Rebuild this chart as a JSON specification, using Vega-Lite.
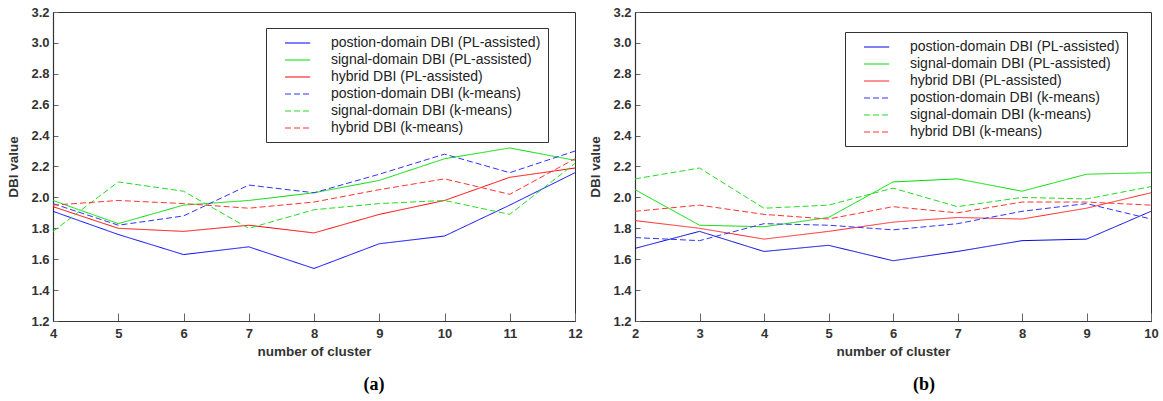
{
  "$schema": "https://vega.github.io/schema/vega-lite/v6.json",
  "background": "white",
  "padding": {"left": 6, "top": 5, "right": 2, "bottom": 5},
  "spacing": 5,
  "datasets": {
    "a": [
      {"x": 4, "y": 1.91, "s": "postion-domain DBI (PL-assisted)"},
      {"x": 5, "y": 1.76, "s": "postion-domain DBI (PL-assisted)"},
      {"x": 6, "y": 1.63, "s": "postion-domain DBI (PL-assisted)"},
      {"x": 7, "y": 1.68, "s": "postion-domain DBI (PL-assisted)"},
      {"x": 8, "y": 1.54, "s": "postion-domain DBI (PL-assisted)"},
      {"x": 9, "y": 1.70, "s": "postion-domain DBI (PL-assisted)"},
      {"x": 10, "y": 1.75, "s": "postion-domain DBI (PL-assisted)"},
      {"x": 11, "y": 1.95, "s": "postion-domain DBI (PL-assisted)"},
      {"x": 12, "y": 2.16, "s": "postion-domain DBI (PL-assisted)"},
      {"x": 4, "y": 1.98, "s": "signal-domain DBI (PL-assisted)"},
      {"x": 5, "y": 1.83, "s": "signal-domain DBI (PL-assisted)"},
      {"x": 6, "y": 1.95, "s": "signal-domain DBI (PL-assisted)"},
      {"x": 7, "y": 1.98, "s": "signal-domain DBI (PL-assisted)"},
      {"x": 8, "y": 2.03, "s": "signal-domain DBI (PL-assisted)"},
      {"x": 9, "y": 2.11, "s": "signal-domain DBI (PL-assisted)"},
      {"x": 10, "y": 2.25, "s": "signal-domain DBI (PL-assisted)"},
      {"x": 11, "y": 2.32, "s": "signal-domain DBI (PL-assisted)"},
      {"x": 12, "y": 2.24, "s": "signal-domain DBI (PL-assisted)"},
      {"x": 4, "y": 1.94, "s": "hybrid DBI (PL-assisted)"},
      {"x": 5, "y": 1.80, "s": "hybrid DBI (PL-assisted)"},
      {"x": 6, "y": 1.78, "s": "hybrid DBI (PL-assisted)"},
      {"x": 7, "y": 1.82, "s": "hybrid DBI (PL-assisted)"},
      {"x": 8, "y": 1.77, "s": "hybrid DBI (PL-assisted)"},
      {"x": 9, "y": 1.89, "s": "hybrid DBI (PL-assisted)"},
      {"x": 10, "y": 1.98, "s": "hybrid DBI (PL-assisted)"},
      {"x": 11, "y": 2.13, "s": "hybrid DBI (PL-assisted)"},
      {"x": 12, "y": 2.19, "s": "hybrid DBI (PL-assisted)"},
      {"x": 4, "y": 1.96, "s": "postion-domain DBI (k-means)"},
      {"x": 5, "y": 1.82, "s": "postion-domain DBI (k-means)"},
      {"x": 6, "y": 1.88, "s": "postion-domain DBI (k-means)"},
      {"x": 7, "y": 2.08, "s": "postion-domain DBI (k-means)"},
      {"x": 8, "y": 2.03, "s": "postion-domain DBI (k-means)"},
      {"x": 9, "y": 2.15, "s": "postion-domain DBI (k-means)"},
      {"x": 10, "y": 2.28, "s": "postion-domain DBI (k-means)"},
      {"x": 11, "y": 2.16, "s": "postion-domain DBI (k-means)"},
      {"x": 12, "y": 2.30, "s": "postion-domain DBI (k-means)"},
      {"x": 4, "y": 1.78, "s": "signal-domain DBI (k-means)"},
      {"x": 5, "y": 2.10, "s": "signal-domain DBI (k-means)"},
      {"x": 6, "y": 2.04, "s": "signal-domain DBI (k-means)"},
      {"x": 7, "y": 1.80, "s": "signal-domain DBI (k-means)"},
      {"x": 8, "y": 1.92, "s": "signal-domain DBI (k-means)"},
      {"x": 9, "y": 1.96, "s": "signal-domain DBI (k-means)"},
      {"x": 10, "y": 1.98, "s": "signal-domain DBI (k-means)"},
      {"x": 11, "y": 1.89, "s": "signal-domain DBI (k-means)"},
      {"x": 12, "y": 2.22, "s": "signal-domain DBI (k-means)"},
      {"x": 4, "y": 1.95, "s": "hybrid DBI (k-means)"},
      {"x": 5, "y": 1.98, "s": "hybrid DBI (k-means)"},
      {"x": 6, "y": 1.96, "s": "hybrid DBI (k-means)"},
      {"x": 7, "y": 1.93, "s": "hybrid DBI (k-means)"},
      {"x": 8, "y": 1.97, "s": "hybrid DBI (k-means)"},
      {"x": 9, "y": 2.05, "s": "hybrid DBI (k-means)"},
      {"x": 10, "y": 2.12, "s": "hybrid DBI (k-means)"},
      {"x": 11, "y": 2.02, "s": "hybrid DBI (k-means)"},
      {"x": 12, "y": 2.25, "s": "hybrid DBI (k-means)"}
    ],
    "b": [
      {"x": 2, "y": 1.67, "s": "postion-domain DBI (PL-assisted)"},
      {"x": 3, "y": 1.78, "s": "postion-domain DBI (PL-assisted)"},
      {"x": 4, "y": 1.65, "s": "postion-domain DBI (PL-assisted)"},
      {"x": 5, "y": 1.69, "s": "postion-domain DBI (PL-assisted)"},
      {"x": 6, "y": 1.59, "s": "postion-domain DBI (PL-assisted)"},
      {"x": 7, "y": 1.65, "s": "postion-domain DBI (PL-assisted)"},
      {"x": 8, "y": 1.72, "s": "postion-domain DBI (PL-assisted)"},
      {"x": 9, "y": 1.73, "s": "postion-domain DBI (PL-assisted)"},
      {"x": 10, "y": 1.91, "s": "postion-domain DBI (PL-assisted)"},
      {"x": 2, "y": 2.05, "s": "signal-domain DBI (PL-assisted)"},
      {"x": 3, "y": 1.82, "s": "signal-domain DBI (PL-assisted)"},
      {"x": 4, "y": 1.81, "s": "signal-domain DBI (PL-assisted)"},
      {"x": 5, "y": 1.87, "s": "signal-domain DBI (PL-assisted)"},
      {"x": 6, "y": 2.10, "s": "signal-domain DBI (PL-assisted)"},
      {"x": 7, "y": 2.12, "s": "signal-domain DBI (PL-assisted)"},
      {"x": 8, "y": 2.04, "s": "signal-domain DBI (PL-assisted)"},
      {"x": 9, "y": 2.15, "s": "signal-domain DBI (PL-assisted)"},
      {"x": 10, "y": 2.16, "s": "signal-domain DBI (PL-assisted)"},
      {"x": 2, "y": 1.85, "s": "hybrid DBI (PL-assisted)"},
      {"x": 3, "y": 1.80, "s": "hybrid DBI (PL-assisted)"},
      {"x": 4, "y": 1.73, "s": "hybrid DBI (PL-assisted)"},
      {"x": 5, "y": 1.78, "s": "hybrid DBI (PL-assisted)"},
      {"x": 6, "y": 1.84, "s": "hybrid DBI (PL-assisted)"},
      {"x": 7, "y": 1.87, "s": "hybrid DBI (PL-assisted)"},
      {"x": 8, "y": 1.86, "s": "hybrid DBI (PL-assisted)"},
      {"x": 9, "y": 1.93, "s": "hybrid DBI (PL-assisted)"},
      {"x": 10, "y": 2.03, "s": "hybrid DBI (PL-assisted)"},
      {"x": 2, "y": 1.74, "s": "postion-domain DBI (k-means)"},
      {"x": 3, "y": 1.72, "s": "postion-domain DBI (k-means)"},
      {"x": 4, "y": 1.83, "s": "postion-domain DBI (k-means)"},
      {"x": 5, "y": 1.82, "s": "postion-domain DBI (k-means)"},
      {"x": 6, "y": 1.79, "s": "postion-domain DBI (k-means)"},
      {"x": 7, "y": 1.83, "s": "postion-domain DBI (k-means)"},
      {"x": 8, "y": 1.91, "s": "postion-domain DBI (k-means)"},
      {"x": 9, "y": 1.96, "s": "postion-domain DBI (k-means)"},
      {"x": 10, "y": 1.86, "s": "postion-domain DBI (k-means)"},
      {"x": 2, "y": 2.12, "s": "signal-domain DBI (k-means)"},
      {"x": 3, "y": 2.19, "s": "signal-domain DBI (k-means)"},
      {"x": 4, "y": 1.93, "s": "signal-domain DBI (k-means)"},
      {"x": 5, "y": 1.95, "s": "signal-domain DBI (k-means)"},
      {"x": 6, "y": 2.06, "s": "signal-domain DBI (k-means)"},
      {"x": 7, "y": 1.94, "s": "signal-domain DBI (k-means)"},
      {"x": 8, "y": 2.00, "s": "signal-domain DBI (k-means)"},
      {"x": 9, "y": 1.99, "s": "signal-domain DBI (k-means)"},
      {"x": 10, "y": 2.07, "s": "signal-domain DBI (k-means)"},
      {"x": 2, "y": 1.91, "s": "hybrid DBI (k-means)"},
      {"x": 3, "y": 1.95, "s": "hybrid DBI (k-means)"},
      {"x": 4, "y": 1.89, "s": "hybrid DBI (k-means)"},
      {"x": 5, "y": 1.86, "s": "hybrid DBI (k-means)"},
      {"x": 6, "y": 1.94, "s": "hybrid DBI (k-means)"},
      {"x": 7, "y": 1.90, "s": "hybrid DBI (k-means)"},
      {"x": 8, "y": 1.97, "s": "hybrid DBI (k-means)"},
      {"x": 9, "y": 1.97, "s": "hybrid DBI (k-means)"},
      {"x": 10, "y": 1.95, "s": "hybrid DBI (k-means)"}
    ]
  },
  "hconcat": [
    {
      "width": 522,
      "height": 309,
      "title": {"text": "(a)", "orient": "bottom", "anchor": "middle", "dx": 60, "offset": 18, "font": "Liberation Serif", "fontSize": 18, "fontWeight": "bold", "color": "#000"},
      "data": {"name": "a"},
      "mark": {"type": "line", "strokeWidth": 1},
      "encoding": {
        "x": {"field": "x", "type": "quantitative", "scale": {"domain": [4, 12], "nice": false, "zero": false}, "axis": {"values": [4, 5, 6, 7, 8, 9, 10, 11, 12], "title": "number of cluster", "tickSize": -8, "labelPadding": 14, "titlePadding": 4, "labelFlush": false}},
        "y": {"field": "y", "type": "quantitative", "scale": {"domain": [1.2, 3.2], "nice": false, "zero": false}, "axis": {"values": [1.2, 1.4, 1.6, 1.8, 2.0, 2.2, 2.4, 2.6, 2.8, 3.0, 3.2], "format": ".1f", "title": "DBI value", "tickSize": -5, "labelPadding": 9, "titlePadding": 10, "labelFlush": false}},
        "color": {"field": "s", "type": "nominal", "sort": null,
          "scale": {"domain": ["postion-domain DBI (PL-assisted)", "signal-domain DBI (PL-assisted)", "hybrid DBI (PL-assisted)", "postion-domain DBI (k-means)", "signal-domain DBI (k-means)", "hybrid DBI (k-means)"], "range": ["#0000ff", "#00dd00", "#ff0000", "#3333ff", "#22dd22", "#ff3333"]},
          "legend": {"title": null, "orient": "none", "legendX": 213, "legendY": 16, "padding": 7, "symbolOffset": 16.6, "labelOffset": 25.4, "rowPadding": 2,
            "encode": {"symbols": {"update": {
              "strokeDash": {"signal": "indexof(datum.value, 'k-means') >= 0 ? [6, 3] : [1, 0]"},
              "stroke": {"signal": "indexof(datum.value, 'postion') >= 0 ? '#0000ff' : (indexof(datum.value, 'signal') >= 0 ? '#00dd00' : '#ff0000')"}
            }}}}},
        "strokeDash": {"field": "s", "type": "nominal", "sort": null,
          "scale": {"domain": ["postion-domain DBI (PL-assisted)", "signal-domain DBI (PL-assisted)", "hybrid DBI (PL-assisted)", "postion-domain DBI (k-means)", "signal-domain DBI (k-means)", "hybrid DBI (k-means)"], "range": [[1, 0], [1, 0], [1, 0], [6, 3], [6, 3], [6, 3]]},
          "legend": null}
      }
    },
    {
      "width": 516,
      "height": 309,
      "title": {"text": "(b)", "orient": "bottom", "anchor": "middle", "dx": 31, "offset": 18, "font": "Liberation Serif", "fontSize": 18, "fontWeight": "bold", "color": "#000"},
      "data": {"name": "b"},
      "mark": {"type": "line", "strokeWidth": 1},
      "encoding": {
        "x": {"field": "x", "type": "quantitative", "scale": {"domain": [2, 10], "nice": false, "zero": false}, "axis": {"values": [2, 3, 4, 5, 6, 7, 8, 9, 10], "title": "number of cluster", "tickSize": -8, "labelPadding": 14, "titlePadding": 4, "labelFlush": false}},
        "y": {"field": "y", "type": "quantitative", "scale": {"domain": [1.2, 3.2], "nice": false, "zero": false}, "axis": {"values": [1.2, 1.4, 1.6, 1.8, 2.0, 2.2, 2.4, 2.6, 2.8, 3.0, 3.2], "format": ".1f", "title": "DBI value", "tickSize": -5, "labelPadding": 9, "titlePadding": 10, "labelFlush": false}},
        "color": {"field": "s", "type": "nominal", "sort": null,
          "scale": {"domain": ["postion-domain DBI (PL-assisted)", "signal-domain DBI (PL-assisted)", "hybrid DBI (PL-assisted)", "postion-domain DBI (k-means)", "signal-domain DBI (k-means)", "hybrid DBI (k-means)"], "range": ["#0000dd", "#00dd00", "#ff2222", "#3333ff", "#22dd22", "#ff3333"]},
          "legend": {"title": null, "orient": "none", "legendX": 210, "legendY": 20, "padding": 7, "symbolOffset": 16.6, "labelOffset": 25.4, "rowPadding": 2,
            "encode": {"symbols": {"update": {
              "strokeDash": {"signal": "indexof(datum.value, 'k-means') >= 0 ? [6, 3] : [1, 0]"},
              "stroke": {"signal": "datum.value === 'postion-domain DBI (PL-assisted)' ? '#0000bb' : (indexof(datum.value, 'postion') >= 0 ? '#2222ff' : (indexof(datum.value, 'signal') >= 0 ? '#00dd00' : '#ff0000'))"}
            }}}}},
        "strokeDash": {"field": "s", "type": "nominal", "sort": null,
          "scale": {"domain": ["postion-domain DBI (PL-assisted)", "signal-domain DBI (PL-assisted)", "hybrid DBI (PL-assisted)", "postion-domain DBI (k-means)", "signal-domain DBI (k-means)", "hybrid DBI (k-means)"], "range": [[1, 0], [1, 0], [1, 0], [6, 3], [6, 3], [6, 3]]},
          "legend": null}
      }
    }
  ],
  "resolve": {"scale": {"x": "independent", "y": "independent", "color": "independent", "strokeDash": "independent"}, "legend": {"color": "independent"}},
  "config": {
    "view": {"stroke": "#333", "strokeWidth": 1},
    "axis": {"grid": false, "labelFont": "Liberation Sans", "labelFontWeight": "bold", "labelFontSize": 13, "labelColor": "#333", "titleFont": "Liberation Sans", "titleFontWeight": "bold", "titleFontSize": 13.5, "titleColor": "#333", "domainColor": "#333", "domainWidth": 1.2, "tickColor": "#666", "tickWidth": 1},
    "legend": {"labelFont": "Liberation Sans", "labelFontSize": 14, "labelColor": "#222", "symbolType": "M-1.8,0H1.8", "symbolSize": 196, "symbolStrokeWidth": 1.2, "strokeColor": "#333", "fillColor": "white", "labelLimit": 400}
  }
}
